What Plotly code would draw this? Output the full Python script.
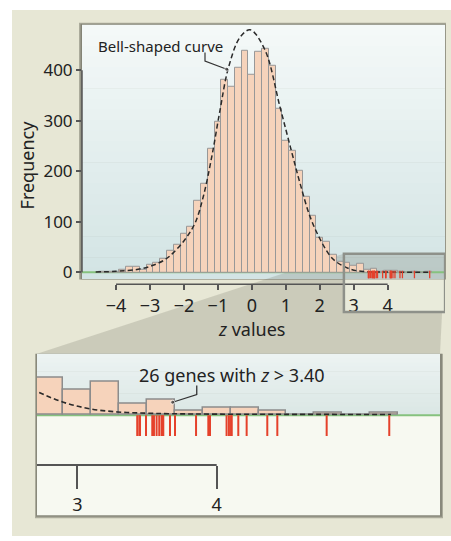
import plotly.graph_objects as go

# ---------------- data ----------------
bin_centers = [-4.4, -4.2, -4.0, -3.8, -3.6, -3.4, -3.2, -3.0, -2.8, -2.6,
               -2.4, -2.2, -2.0, -1.8, -1.6, -1.4, -1.2, -1.0, -0.8, -0.6,
               -0.4, -0.2, 0.0, 0.2, 0.4, 0.6, 0.8, 1.0, 1.2, 1.4,
               1.6, 1.8, 2.0, 2.2, 2.4, 2.6, 2.8, 3.0, 3.2, 3.4,
               3.6, 3.8, 4.0, 4.2, 4.4, 4.6, 4.8, 5.0, 5.2]
bin_counts = [1, 1, 2, 6, 12, 12, 6, 15, 19, 27,
              42, 55, 76, 91, 142, 175, 245, 299, 382, 367,
              405, 438, 391, 436, 442, 408, 324, 261, 240, 201,
              150, 112, 68, 61, 35, 21, 19, 13, 17, 6,
              8, 2, 4, 4, 2, 0, 1, 0, 1]
bin_width = 0.2

curve_z = [-4.6, -4.0, -3.35, -2.95, -2.56, -2.31, -1.97, -1.67, -1.43, -1.18,
           -0.94, -0.69, -0.35, -0.05, 0.38, 0.83, 1.17, 1.42, 1.71, 2.0,
           2.3, 2.5, 2.71, 2.9, 3.09, 3.29, 3.49, 3.68, 4.0, 4.5, 5.25]
curve_f = [0.8, 2, 6, 13, 25, 39, 65, 98, 150, 229,
           320, 405, 465, 480, 441, 327, 239, 176, 111, 67,
           33, 20, 12, 6.5, 3.2, 1.6, 1.0, 0.7, 0.5, 0.4, 0.3]

genes_z = [3.430, 3.445, 3.450, 3.493, 3.538, 3.550, 3.569, 3.588, 3.605, 3.610,
           3.617, 3.665, 3.701, 3.852, 3.940, 3.952, 4.071, 4.088, 4.103, 4.108,
           4.155, 4.215, 4.363, 4.435, 4.789, 5.238]

main_ticks = [-4, -3, -2, -1, 0, 1, 2, 3, 4]
main_tick_labels = ["\u22124", "\u22123", "\u22122", "\u22121", "0", "1", "2", "3", "4"]
freq_ticks = [0, 100, 200, 300, 400]
inset_ticks = [3, 4]
inset_tick_labels = ["3", "4"]

bell_leader_z = [-1.38, -1.38, -0.74]
bell_leader_f = [435, 418, 402]
genes_leader_z = [3.857, 3.857, 3.684]
genes_leader_f = [14.9, 10.4, 6.5]

# ---------------- layout helpers ----------------
W, H = 451, 541
def px(x): return x / W
def py(y): return 1 - y / H

FONT = "Noto Sans"
BAR_FILL = "#f6d3bb"
BAR_LINE = "#989898"
RED = "#e5412b"
GREEN = "#86c27e"
AXC = "#555555"

main_xr = [-5.003, 5.689]
main_yr = [-12, 490]
inset_xr = [2.711, 5.602]
inset_yr = [-50.5, 31]

shapes = []
def rect(x0, y0, x1, y1, color, layer="below", line=None):
    shapes.append(dict(type="rect", xref="paper", yref="paper",
                       x0=px(x0), x1=px(x1), y0=py(y1), y1=py(y0),
                       fillcolor=color, line=line or dict(width=0), layer=layer))

def gradient(x0, y0, x1, y1, c0, c1, n=24):
    h = (y1 - y0) / n
    for i in range(n):
        t = i / (n - 1)
        c = tuple(round(c0[k] + (c1[k] - c0[k]) * t) for k in range(3))
        rect(x0, y0 + i * h, x1, y0 + (i + 1) * h + 0.6, "rgb(%d,%d,%d)" % c)

# beige background
rect(12, 10, 451, 541, "#e7e7d5")
# main panel shadow + gradient
rect(79, 23, 446, 282, "rgba(60,60,50,0.35)")
rect(80.5, 24, 445.5, 282, "rgba(60,60,50,0.35)")
gradient(82, 25, 445, 281, (244, 249, 248), (211, 228, 228))
# inset shadow + panels
rect(35, 357, 443, 523, "rgba(60,60,50,0.35)")
rect(36, 357, 442, 521.5, "rgba(60,60,50,0.3)")
gradient(37, 357, 440, 419, (236, 243, 242), (219, 231, 229), n=14)
rect(37, 419, 440, 520, "#f7f9f1")
# zoom wedge
box_px0 = 251.85 + 33.95 * inset_xr[0]
box_px1 = 251.85 + 33.95 * inset_xr[1] + 3
shapes.append(dict(type="path", xref="paper", yref="paper",
                   path="M %f %f L %f %f L %f %f L %f %f Z" % (
                       px(37), py(357), px(box_px0), py(256),
                       px(box_px1), py(256), px(440), py(357)),
                   fillcolor="rgba(95,95,80,0.2)", line=dict(width=0), layer="below"))
# light interior of the box below the panel
rect(box_px0, 282, box_px1, 315, "#e9ebdb")

# zero lines (beneath the marks)
shapes.append(dict(type="line", xref="paper", yref="y", x0=px(82), x1=px(445), y0=0, y1=0,
                   line=dict(color=GREEN, width=2), layer="below"))
shapes.append(dict(type="line", xref="paper", yref="y2", x0=px(37), x1=px(440), y0=0, y1=0,
                   line=dict(color=GREEN, width=2), layer="below"))

# axis lines drawn through the axes
shapes.append(dict(type="line", xref="x", yref="paper", x0=main_ticks[0], x1=main_ticks[-1],
                   y0=py(287), y1=py(287), line=dict(color=AXC, width=1.5), layer="above"))
shapes.append(dict(type="line", xref="paper", yref="y", x0=px(82), x1=px(82),
                   y0=freq_ticks[0], y1=freq_ticks[-1], line=dict(color=AXC, width=1.5), layer="above"))
shapes.append(dict(type="line", xref="x2", yref="paper", x0=inset_xr[0], x1=inset_ticks[-1],
                   y0=py(469.3), y1=py(469.3), line=dict(color=AXC, width=2), layer="above"))
# zoom box outline
shapes.append(dict(type="rect", xref="x", yref="paper", x0=inset_xr[0], x1=inset_xr[1] + 0.09,
                   y0=py(315), y1=py(256), line=dict(color="#8e918a", width=2.5),
                   fillcolor="rgba(0,0,0,0)", layer="above"))

def rug(zs, top, bottom):
    xs, ys = [], []
    for z in zs:
        xs += [z, z, None]
        ys += [top, bottom, None]
    return xs, ys

fig = go.Figure()
# main histogram
fig.add_trace(go.Bar(x=bin_centers, y=bin_counts, width=bin_width,
                     marker=dict(color=BAR_FILL, line=dict(color=BAR_LINE, width=1)),
                     xaxis="x", yaxis="y"))
fig.add_trace(go.Scatter(x=curve_z, y=curve_f, mode="lines",
                         line=dict(color="#2a2a2a", width=1.5, dash="5px,3px", shape="spline"),
                         xaxis="x", yaxis="y"))
rx, ry = rug(genes_z, 3, -12)
fig.add_trace(go.Scatter(x=rx, y=ry, mode="lines", line=dict(color=RED, width=1.3),
                         xaxis="x", yaxis="y"))
fig.add_trace(go.Scatter(x=bell_leader_z, y=bell_leader_f, mode="lines+markers",
                         line=dict(color="#333", width=1.2),
                         marker=dict(size=[0, 0, 4], color="#333"),
                         xaxis="x", yaxis="y"))
# inset
fig.add_trace(go.Bar(x=bin_centers, y=bin_counts, width=bin_width,
                     marker=dict(color=BAR_FILL, line=dict(color="#8c8c8c", width=1.5)),
                     xaxis="x2", yaxis="y2"))
fig.add_trace(go.Scatter(x=curve_z, y=curve_f, mode="lines",
                         line=dict(color="#2a2a2a", width=1.6, dash="5px,3px", shape="spline"),
                         xaxis="x2", yaxis="y2"))
rx2, ry2 = rug(genes_z, 0, -10.5)
fig.add_trace(go.Scatter(x=rx2, y=ry2, mode="lines", line=dict(color=RED, width=2),
                         xaxis="x2", yaxis="y2"))
fig.add_trace(go.Scatter(x=genes_leader_z, y=genes_leader_f, mode="lines+markers",
                         line=dict(color="#333", width=1.3),
                         marker=dict(size=[0, 0, 4], color="#333"),
                         xaxis="x2", yaxis="y2"))

def label(text, x, y, size, angle=0):
    return dict(text=text, x=px(x), y=py(y), xref="paper", yref="paper",
                xanchor="center", yanchor="middle", textangle=angle,
                showarrow=False, font=dict(family=FONT, size=size, color="#222"))

annotations = [
    label("Bell-shaped curve", 160, 46, 15),
    label("26 genes with <i>z</i> &gt; 3.40", 232, 378, 18),
    label("<i>z</i> values", 252, 332, 18),
    label("Frequency", 27, 167, 18, -90),
]

fig.update_layout(
    width=W, height=H, margin=dict(l=0, r=0, t=0, b=0),
    paper_bgcolor="white", plot_bgcolor="rgba(0,0,0,0)",
    showlegend=False, bargap=0, barmode="overlay",
    font=dict(family=FONT, color="#222"),
    shapes=shapes, annotations=annotations,
    xaxis=dict(domain=[px(82), px(445)], range=main_xr, anchor="free", position=py(287),
               tickvals=main_ticks, ticktext=main_tick_labels, ticks="outside", ticklen=5,
               tickwidth=1.5, tickcolor=AXC, showline=False, showgrid=False, zeroline=False,
               tickfont=dict(size=18, color="#222")),
    yaxis=dict(domain=[py(281), py(25)], range=main_yr, anchor="x",
               tickvals=freq_ticks, ticks="outside", ticklen=5, tickwidth=1.5, tickcolor=AXC,
               showline=False, showgrid=False, zeroline=False,
               tickfont=dict(size=17, color="#222")),
    xaxis2=dict(domain=[px(37), px(440)], range=inset_xr, anchor="free", position=py(469.3),
                tickvals=inset_ticks, ticktext=inset_tick_labels, ticks="outside", ticklen=23,
                tickwidth=2, tickcolor=AXC, showline=False, showgrid=False, zeroline=False,
                tickfont=dict(size=18, color="#222")),
    yaxis2=dict(domain=[py(520), py(357)], range=inset_yr, anchor="x2", visible=False),
)

fig.write_html("out.html", config={"displayModeBar": False},
               post_script="document.body.style.margin='0';document.body.style.overflow='hidden';")
